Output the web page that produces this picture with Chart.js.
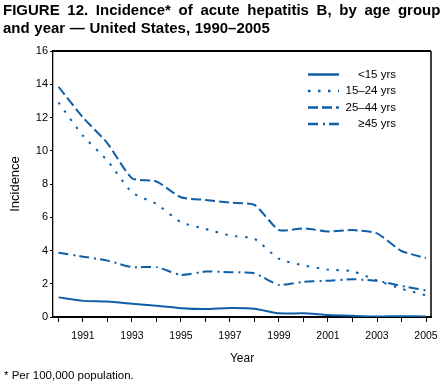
<!DOCTYPE html>
<html>
<head>
<meta charset="utf-8">
<script src="https://cdn.jsdelivr.net/npm/chart.js@4"></script>
<style>
  body { margin: 0; background: #fff; font-family: "Liberation Sans", Arial, sans-serif; color: #000; }
  #wrap { position: relative; width: 448px; height: 389px; }
  #title { position: absolute; left: 3px; top: 1px; font-weight: bold; font-size: 15px; line-height: 18px; white-space: nowrap; }
  #title .l1 { word-spacing: 3.5px; }
  #title .l2 { word-spacing: 0.5px; }
  #note { position: absolute; left: 4px; top: 369px; font-size: 11.5px; }
  canvas { position: absolute; left: 0; top: 0; }
</style>
</head>
<body>
<div id="wrap">
  <canvas id="chart" width="448" height="389"></canvas>
  <div id="title"><span class="l1">FIGURE 12. Incidence* of acute hepatitis B, by age group</span><br><span class="l2">and year — United States, 1990–2005</span></div>
  <div id="note">* Per 100,000 population.</div>
</div>
<script>
// incidence per 100,000
var years = [1990, 1991, 1992, 1993, 1994, 1995, 1996, 1997, 1998, 1999, 2000, 2001, 2002, 2003, 2004, 2005];
var under15 = [1.18, 0.97, 0.93, 0.8, 0.67, 0.53, 0.48, 0.54, 0.5, 0.22, 0.22, 0.12, 0.07, 0.03, 0.05, 0.03];
var age15to24 = [12.9, 10.9, 9.4, 7.5, 6.8, 5.7, 5.3, 4.9, 4.7, 3.5, 3.1, 2.85, 2.75, 2.2, 1.7, 1.3];
var age25to44 = [13.85, 12.0, 10.45, 8.35, 8.15, 7.2, 7.04, 6.88, 6.74, 5.23, 5.33, 5.15, 5.23, 5.03, 3.97, 3.55];
var age45plus = [3.87, 3.63, 3.39, 3.0, 3.0, 2.53, 2.73, 2.69, 2.63, 1.93, 2.12, 2.18, 2.27, 2.17, 1.87, 1.6];
var labels = ["<15 yrs", "15–24 yrs", "25–44 yrs", "≥45 yrs"];

var blue = "#0f5ea8";

const toPoints = (vals) => vals.map((v, i) => ({ x: years[i], y: v }));

const makeSet = (label, vals, dash) => ({
  label: label,
  data: toPoints(vals),
  borderColor: blue,
  borderWidth: 2,
  borderDash: dash,
  pointRadius: 0,
  tension: 0.2,
  fill: false
});

// box lines on top and right, plus the legend inside the plot
const framePlugin = {
  id: "frame",
  afterDraw(chart) {
    var ctx = chart.ctx;
    var a = chart.chartArea;
    ctx.save();
    ctx.strokeStyle = "#000";
    ctx.lineWidth = 2;
    ctx.beginPath();
    ctx.moveTo(a.left - 1, a.top);
    ctx.lineTo(a.right, a.top);
    ctx.stroke();
    ctx.lineWidth = 1.5;
    ctx.beginPath();
    ctx.moveTo(a.right, a.top);
    ctx.lineTo(a.right, a.bottom);
    ctx.stroke();

    ctx.font = "11.5px 'Liberation Sans', Arial, sans-serif";
    ctx.fillStyle = "#000";
    ctx.textAlign = "right";
    ctx.textBaseline = "middle";
    chart.data.datasets.forEach((ds, i) => {
      var y = 74.5 + i * 16.5;
      ctx.strokeStyle = ds.borderColor;
      ctx.lineWidth = 2.5;
      ctx.setLineDash(ds.borderDash || []);
      ctx.beginPath();
      ctx.moveTo(308, y);
      ctx.lineTo(339, y);
      ctx.stroke();
      ctx.setLineDash([]);
      ctx.fillText(ds.label, 396, y);
    });
    ctx.restore();
  }
};

new Chart(document.getElementById("chart"), {
  type: "line",
  data: {
    datasets: [
      makeSet(labels[0], under15, []),
      makeSet(labels[1], age15to24, [2.5, 7.5]),
      makeSet(labels[2], age25to44, [10, 4]),
      makeSet(labels[3], age45plus, [10, 5, 2, 4])
    ]
  },
  options: {
    responsive: false,
    devicePixelRatio: 1,
    animation: false,
    layout: { padding: { left: 0, top: 51, right: 17, bottom: 23 } },
    plugins: { legend: { display: false }, tooltip: { enabled: false } },
    scales: {
      x: {
        type: "linear",
        min: 1989.776,
        max: 2005.204,
        afterFit: (s) => { s.height = 49; },
        grid: { drawOnChartArea: false, tickLength: 5, color: "#000" },
        border: { color: "#000", width: 2 },
        ticks: {
          stepSize: 1,
          includeBounds: false,
          autoSkip: false,
          maxRotation: 0,
          padding: 8,
          color: "#000",
          font: { size: 10.5, family: "'Liberation Sans', Arial, sans-serif" },
          callback: (v) => (v % 2 === 1 ? String(v) : "")
        },
        title: {
          display: true,
          text: "Year",
          color: "#000",
          padding: { top: 0, bottom: 0 },
          font: { size: 12, family: "'Liberation Sans', Arial, sans-serif" }
        }
      },
      y: {
        min: 0,
        max: 16,
        afterFit: (s) => { s.width = 53; },
        grid: { drawOnChartArea: false, tickLength: 3, color: "#000" },
        border: { color: "#000", width: 1.3 },
        ticks: {
          stepSize: 2,
          padding: 2,
          color: "#000",
          font: { size: 11, family: "'Liberation Sans', Arial, sans-serif" }
        },
        title: {
          display: true,
          text: "Incidence",
          color: "#000",
          padding: { top: 8, bottom: 0 },
          font: { size: 13, family: "'Liberation Sans', Arial, sans-serif" }
        }
      }
    }
  },
  plugins: [framePlugin]
});
</script>
</body>
</html>
